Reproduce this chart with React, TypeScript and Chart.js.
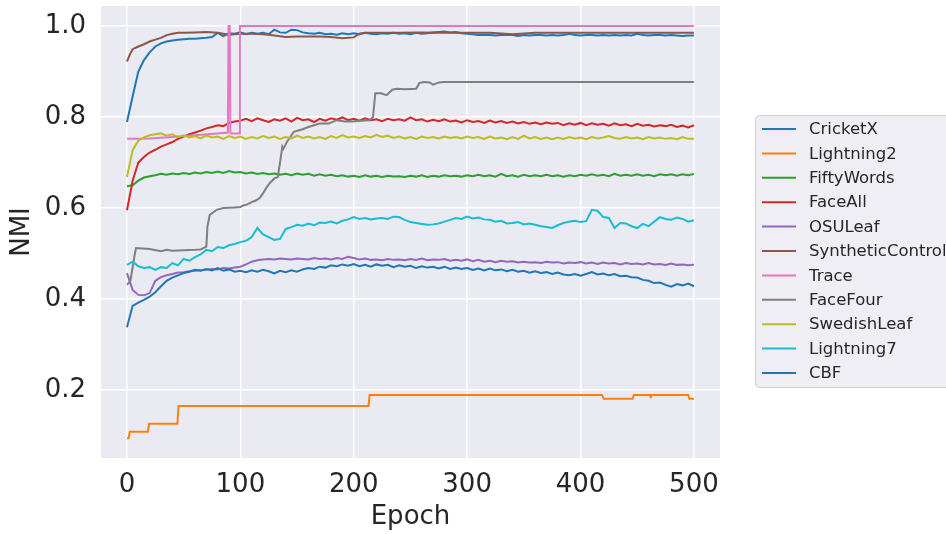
import React, { useEffect, useRef } from "react";
import { Chart, registerables } from "chart.js";

Chart.register(...registerables);

const EPOCHS = [
  0, 5, 10, 15, 20, 25, 30, 35, 40, 45,
  50, 55, 60, 65, 70, 75, 80, 85, 90, 95,
  100, 105, 110, 115, 120, 125, 130, 135, 140, 145,
  150, 155, 160, 165, 170, 175, 180, 185, 190, 195,
  200, 205, 210, 215, 220, 225, 230, 235, 240, 245,
  250, 255, 260, 265, 270, 275, 280, 285, 290, 295,
  300, 305, 310, 315, 320, 325, 330, 335, 340, 345,
  350, 355, 360, 365, 370, 375, 380, 385, 390, 395,
  400, 405, 410, 415, 420, 425, 430, 435, 440, 445,
  450, 455, 460, 465, 470, 475, 480, 485, 490, 495,
  500,
];

const CRICKETX = [
  0.789, 0.845, 0.9, 0.925, 0.942, 0.955, 0.962, 0.966, 0.968, 0.97,
  0.971, 0.972, 0.972, 0.973, 0.974, 0.976, 0.985, 0.978, 0.984, 0.983,
  0.986, 0.982, 0.985, 0.983, 0.985, 0.982, 0.992, 0.986, 0.985, 0.992,
  0.991, 0.986, 0.984, 0.983, 0.985, 0.982, 0.983, 0.981, 0.984, 0.982,
  0.984, 0.982, 0.985, 0.983, 0.982, 0.984, 0.983, 0.985, 0.983, 0.984,
  0.982, 0.985, 0.983, 0.984, 0.986, 0.987, 0.988, 0.986, 0.987, 0.984,
  0.983, 0.982, 0.98, 0.981, 0.98, 0.979, 0.98, 0.981, 0.98, 0.978,
  0.98, 0.979, 0.98, 0.98, 0.979, 0.98, 0.979, 0.98, 0.983, 0.98,
  0.979, 0.98, 0.98, 0.979, 0.98, 0.979, 0.98, 0.979, 0.98, 0.979,
  0.983, 0.98, 0.979, 0.98, 0.98, 0.979, 0.98, 0.979, 0.978, 0.979,
  0.979,
];

const L2_EPOCHS = [0, 1.5, 2.5, 18.5, 19.5, 44.5, 45.5, 213, 214, 419, 420.5, 446, 447, 461.5, 462, 462.5, 495, 496, 500];
const LIGHTNING2 = [0.094, 0.094, 0.108, 0.108, 0.126, 0.126, 0.165, 0.165, 0.189, 0.189, 0.181, 0.181, 0.189, 0.189, 0.182, 0.189, 0.189, 0.181, 0.181];

const FIFTYWORDS = [
  0.648, 0.65, 0.66, 0.667, 0.67, 0.672, 0.675, 0.673, 0.676, 0.674,
  0.677, 0.675, 0.678, 0.676, 0.679, 0.677, 0.68, 0.677, 0.681, 0.678,
  0.679, 0.676, 0.678, 0.675, 0.677, 0.674, 0.676, 0.673, 0.675, 0.672,
  0.676, 0.673, 0.675, 0.671, 0.674, 0.671, 0.673, 0.67, 0.672, 0.669,
  0.671, 0.668, 0.672, 0.669, 0.671, 0.668, 0.671, 0.669, 0.67, 0.668,
  0.671, 0.669, 0.672, 0.668, 0.671, 0.669, 0.672, 0.67, 0.671, 0.669,
  0.672, 0.67, 0.673, 0.67, 0.672, 0.669, 0.675, 0.67, 0.672, 0.669,
  0.673, 0.67, 0.672, 0.67, 0.673, 0.67, 0.672, 0.669, 0.672, 0.67,
  0.673, 0.671, 0.674, 0.671, 0.673, 0.67, 0.675, 0.671, 0.673, 0.671,
  0.674, 0.671, 0.673, 0.67, 0.674, 0.672, 0.674, 0.671, 0.674, 0.672,
  0.675,
];

const FACEALL = [
  0.595, 0.66, 0.7, 0.712, 0.722, 0.728, 0.735, 0.74, 0.745, 0.752,
  0.757, 0.762, 0.766, 0.77, 0.775, 0.778, 0.782, 0.78, 0.787, 0.79,
  0.792, 0.796, 0.791, 0.797, 0.793, 0.789, 0.795, 0.792, 0.797, 0.79,
  0.798, 0.793, 0.795, 0.789, 0.796, 0.792, 0.797, 0.794, 0.799, 0.793,
  0.796, 0.792, 0.797, 0.793, 0.795, 0.791, 0.796, 0.793, 0.795, 0.792,
  0.799, 0.793, 0.795, 0.79, 0.794, 0.791, 0.795, 0.79, 0.792, 0.788,
  0.793, 0.789, 0.791, 0.787, 0.792, 0.788, 0.791, 0.787, 0.79, 0.786,
  0.789, 0.785, 0.788, 0.784, 0.788, 0.785, 0.787, 0.782, 0.786, 0.783,
  0.787, 0.782, 0.786, 0.783, 0.785, 0.781, 0.786, 0.782, 0.784, 0.78,
  0.785, 0.781, 0.783, 0.779, 0.782, 0.78, 0.783, 0.778, 0.781, 0.777,
  0.782,
];

const OSULEAF = [
  0.457, 0.42, 0.409, 0.408, 0.413, 0.44, 0.448, 0.452, 0.455, 0.458,
  0.459, 0.461, 0.462, 0.463, 0.464, 0.466, 0.465, 0.468, 0.467, 0.469,
  0.471, 0.476, 0.482, 0.485, 0.487, 0.488, 0.487, 0.489, 0.488, 0.487,
  0.489, 0.488, 0.487, 0.49, 0.488, 0.489, 0.487, 0.49, 0.488, 0.493,
  0.49, 0.487, 0.489, 0.486, 0.487, 0.485, 0.488, 0.486, 0.487, 0.485,
  0.488, 0.486, 0.489, 0.485, 0.487, 0.486, 0.488, 0.484, 0.486, 0.484,
  0.487, 0.483, 0.486, 0.482, 0.484, 0.481, 0.484, 0.482, 0.483, 0.48,
  0.482, 0.48, 0.481, 0.479, 0.482, 0.48, 0.481, 0.478, 0.48, 0.479,
  0.481, 0.478, 0.48, 0.477, 0.48, 0.478, 0.479, 0.476, 0.479, 0.477,
  0.478, 0.476, 0.479, 0.476, 0.477, 0.475, 0.478, 0.475, 0.476, 0.474,
  0.475,
];

const SC_EPOCHS = [0, 3, 5, 10, 15, 20, 25, 30, 35, 40, 45, 50, 60, 70, 80, 90, 100, 110, 120, 130, 140, 150, 160, 170, 180, 190, 200, 205, 210, 220, 230, 240, 260, 280, 300, 320, 340, 360, 380, 400, 420, 440, 460, 480, 500];
const SYNTHETIC = [0.922, 0.94, 0.949, 0.955, 0.96, 0.966, 0.97, 0.974, 0.98, 0.983, 0.985, 0.985, 0.986, 0.987, 0.985, 0.981, 0.983, 0.983, 0.982, 0.979, 0.976, 0.977, 0.977, 0.977, 0.976, 0.973, 0.975, 0.983, 0.985, 0.985, 0.985, 0.985, 0.986, 0.985, 0.985, 0.985, 0.982, 0.985, 0.985, 0.985, 0.985, 0.985, 0.985, 0.985, 0.985];

const TRACE_EPOCHS = [0, 20, 40, 60, 80, 89, 89.6, 90.6, 91.2, 92, 99, 99.6, 100, 500];
const TRACE = [0.752, 0.753, 0.756, 0.76, 0.764, 0.766, 1.0, 1.0, 0.765, 0.764, 0.764, 1.0, 1.0, 1.0];

const FF_EPOCHS = [0, 3, 5, 7, 8, 20, 30, 35, 40, 50, 60, 65, 70, 71, 73, 76, 79, 85, 95, 100, 102, 106, 110, 114, 117, 120, 123, 126, 130, 133, 135, 137, 138, 141, 144, 147, 150, 155, 160, 165, 170, 178, 185, 192, 199, 206, 214, 217, 219, 224, 229, 234, 238, 245, 255, 258, 262, 267, 270, 275, 280, 290, 300, 350, 400, 450, 500];
const FACEFOUR = [0.431, 0.44, 0.47, 0.5, 0.512, 0.51, 0.505, 0.508, 0.506, 0.507, 0.508, 0.509, 0.515, 0.56, 0.585, 0.59, 0.596, 0.6, 0.601, 0.602, 0.605, 0.608, 0.613, 0.617, 0.622, 0.632, 0.645, 0.655, 0.665, 0.668, 0.7, 0.735, 0.73, 0.745, 0.756, 0.767, 0.77, 0.773, 0.778, 0.782, 0.786, 0.786, 0.793, 0.79, 0.79, 0.792, 0.793, 0.8, 0.852, 0.852, 0.848, 0.86, 0.862, 0.861, 0.862, 0.875, 0.877, 0.876, 0.871, 0.876, 0.877, 0.877, 0.877, 0.877, 0.877, 0.877, 0.877];

const SWEDISHLEAF = [
  0.668, 0.727, 0.748, 0.755, 0.76, 0.762, 0.764, 0.759, 0.762, 0.756,
  0.76, 0.755, 0.758, 0.753, 0.759, 0.755, 0.757, 0.752, 0.758, 0.754,
  0.757, 0.752, 0.756, 0.753, 0.758, 0.754, 0.757, 0.752, 0.756, 0.753,
  0.759, 0.754, 0.757, 0.753, 0.756, 0.752, 0.758, 0.754, 0.76, 0.755,
  0.757, 0.754, 0.758, 0.755, 0.761, 0.756, 0.759, 0.754, 0.757, 0.753,
  0.756, 0.752, 0.757, 0.754, 0.756, 0.753, 0.757, 0.754, 0.756, 0.753,
  0.757, 0.754, 0.756, 0.752, 0.757, 0.753, 0.755, 0.751, 0.756, 0.752,
  0.759, 0.753, 0.756, 0.752, 0.755, 0.751, 0.755, 0.752, 0.756, 0.753,
  0.755, 0.751, 0.756, 0.753, 0.755, 0.758, 0.754, 0.752, 0.756, 0.753,
  0.755, 0.751, 0.756, 0.753, 0.755, 0.752, 0.754, 0.751, 0.756, 0.752,
  0.752,
];

const LIGHTNING7 = [
  0.475, 0.482, 0.472, 0.468, 0.47, 0.464, 0.47, 0.468, 0.479, 0.474,
  0.488, 0.484, 0.492, 0.498, 0.508, 0.505, 0.514, 0.512, 0.518, 0.521,
  0.525, 0.528, 0.536, 0.556, 0.542, 0.536, 0.53, 0.532, 0.554, 0.558,
  0.563, 0.561, 0.566, 0.562, 0.568, 0.567, 0.57, 0.566, 0.572, 0.575,
  0.58, 0.576, 0.578, 0.575, 0.577, 0.578, 0.576, 0.581, 0.58, 0.574,
  0.569, 0.567, 0.565, 0.563, 0.564, 0.566, 0.57, 0.574, 0.578, 0.576,
  0.581, 0.577, 0.579, 0.575, 0.574, 0.57, 0.572, 0.566, 0.567, 0.569,
  0.564, 0.566, 0.563, 0.56, 0.558, 0.556, 0.562, 0.567, 0.57, 0.572,
  0.569, 0.571, 0.596, 0.594, 0.58, 0.578, 0.556, 0.567, 0.566, 0.56,
  0.556, 0.565, 0.56, 0.57, 0.58, 0.576, 0.574, 0.579, 0.576, 0.57,
  0.573,
];

const CBF = [
  0.338, 0.385, 0.392, 0.398, 0.405, 0.415, 0.428, 0.44, 0.447, 0.452,
  0.457, 0.46, 0.464, 0.462, 0.466, 0.463, 0.468, 0.462, 0.465, 0.46,
  0.462, 0.459, 0.463, 0.46, 0.464, 0.461, 0.456, 0.462, 0.459, 0.463,
  0.46, 0.465, 0.468, 0.466, 0.471, 0.469, 0.474, 0.472, 0.476, 0.473,
  0.477, 0.472, 0.475, 0.471, 0.476, 0.473, 0.475, 0.47, 0.474, 0.471,
  0.473, 0.468, 0.472, 0.469, 0.471, 0.467, 0.471, 0.466, 0.469, 0.466,
  0.468, 0.464, 0.467, 0.463, 0.467, 0.463, 0.465, 0.461, 0.464, 0.46,
  0.462, 0.458, 0.461, 0.457, 0.459, 0.455, 0.458, 0.454, 0.452, 0.455,
  0.451, 0.455, 0.459, 0.454, 0.456, 0.452, 0.455, 0.45, 0.451, 0.448,
  0.447, 0.442, 0.44, 0.435, 0.436, 0.431, 0.427, 0.433, 0.43, 0.434,
  0.428,
];

const LABELS = ["CricketX", "Lightning2", "FiftyWords", "FaceAll", "OSULeaf", "SyntheticControl", "Trace", "FaceFour", "SwedishLeaf", "Lightning7", "CBF"];
const COLORS = ["#1f77b4", "#ff7f0e", "#2ca02c", "#d62728", "#9467bd", "#8c564b", "#e377c2", "#7f7f7f", "#bcbd22", "#17becf", "#1f77b4"];
const XS = [EPOCHS, L2_EPOCHS, EPOCHS, EPOCHS, EPOCHS, SC_EPOCHS, TRACE_EPOCHS, FF_EPOCHS, EPOCHS, EPOCHS, EPOCHS];
const YS = [CRICKETX, LIGHTNING2, FIFTYWORDS, FACEALL, OSULEAF, SYNTHETIC, TRACE, FACEFOUR, SWEDISHLEAF, LIGHTNING7, CBF];

const X_TICKS = [0, 100, 200, 300, 400, 500];
const Y_TICKS = [0.2, 0.4, 0.6, 0.8, 1.0];

const FONT = "'DejaVu Sans', sans-serif";
const TEXT = "#262626";

const decorPlugin = {
  id: "decor",
  beforeDraw(chart: any) {
    const { ctx, chartArea: a } = chart;
    ctx.save();
    ctx.fillStyle = "#ffffff";
    ctx.fillRect(0, 0, chart.width, chart.height);
    ctx.fillStyle = "#eaeaf2";
    ctx.fillRect(a.left, a.top, a.right - a.left, a.bottom - a.top);
    ctx.restore();
  },
  afterDraw(chart: any) {
    const ctx = chart.ctx;
    ctx.save();
    const bx = 755.5, by = 115.5, bw = 260, bh = 272, r = 4;
    ctx.beginPath();
    ctx.moveTo(bx + r, by);
    ctx.lineTo(bx + bw - r, by);
    ctx.arcTo(bx + bw, by, bx + bw, by + r, r);
    ctx.lineTo(bx + bw, by + bh - r);
    ctx.arcTo(bx + bw, by + bh, bx + bw - r, by + bh, r);
    ctx.lineTo(bx + r, by + bh);
    ctx.arcTo(bx, by + bh, bx, by + bh - r, r);
    ctx.lineTo(bx, by + r);
    ctx.arcTo(bx, by, bx + r, by, r);
    ctx.closePath();
    ctx.fillStyle = "#eeeef4";
    ctx.fill();
    ctx.strokeStyle = "#d0d0d0";
    ctx.lineWidth = 1;
    ctx.stroke();
    ctx.font = `16.5px ${FONT}`;
    ctx.textBaseline = "middle";
    ctx.textAlign = "left";
    LABELS.forEach((lab, i) => {
      const y = 129 + i * 24.4;
      ctx.strokeStyle = COLORS[i];
      ctx.lineWidth = 2;
      ctx.beginPath();
      ctx.moveTo(762, y);
      ctx.lineTo(796, y);
      ctx.stroke();
      ctx.fillStyle = TEXT;
      ctx.fillText(lab, 809, y + 1);
    });
    ctx.restore();
  },
};

export default function App() {
  const ref = useRef<HTMLCanvasElement | null>(null);
  useEffect(() => {
    if (!ref.current) return;
    const datasets = LABELS.map((label, i) => ({
      label,
      data: XS[i].map((x, j) => ({ x, y: YS[i][j] })),
      borderColor: COLORS[i],
      backgroundColor: COLORS[i],
      borderWidth: 2,
      pointRadius: 0,
      tension: 0,
      fill: false,
      order: LABELS.length - i,
    }));
    const chart = new Chart(ref.current, {
      type: "line",
      data: { datasets },
      plugins: [decorPlugin],
      options: {
        animation: false,
        responsive: false,
        devicePixelRatio: 1,
        layout: { autoPadding: false, padding: { left: 0, top: 6, right: 226, bottom: 0 } },
        plugins: { legend: { display: false }, tooltip: { enabled: false } },
        scales: {
          x: {
            type: "linear",
            min: -22.9,
            max: 523,
            afterBuildTicks: (s: any) => {
              s.ticks = X_TICKS.map((v) => ({ value: v }));
            },
            afterFit: (s: any) => {
              s.height = 76;
              s.paddingLeft = 0;
              s.paddingRight = 0;
            },
            ticks: {
              font: { family: FONT, size: 26 },
              color: TEXT,
              padding: 12,
              callback: (v: any) => String(v),
            },
            grid: { color: "#ffffff", lineWidth: 1.5, drawTicks: false },
            border: { display: false },
            title: {
              display: true,
              text: "Epoch",
              color: TEXT,
              font: { family: FONT, size: 26 },
              padding: { top: 0, bottom: 1 },
            },
          },
          y: {
            type: "linear",
            min: 0.0505,
            max: 1.044,
            afterBuildTicks: (s: any) => {
              s.ticks = Y_TICKS.map((v) => ({ value: v }));
            },
            afterFit: (s: any) => {
              s.width = 101;
              s.paddingTop = 0;
              s.paddingBottom = 0;
            },
            ticks: {
              font: { family: FONT, size: 26 },
              color: TEXT,
              padding: 15,
              callback: (v: any) => Number(v).toFixed(1),
            },
            grid: { color: "#ffffff", lineWidth: 1.5, drawTicks: false },
            border: { display: false },
            title: {
              display: true,
              text: "NMI",
              color: TEXT,
              font: { family: FONT, size: 26 },
              padding: { top: 7, bottom: 0 },
            },
          },
        },
      },
    } as any);
    return () => chart.destroy();
  }, []);
  return (
    <div style={{ position: "fixed", left: 0, top: 0, width: 946, height: 534, background: "#fff" }}>
      <canvas ref={ref} width={946} height={534} style={{ display: "block", width: 946, height: 534 }} />
    </div>
  );
}
